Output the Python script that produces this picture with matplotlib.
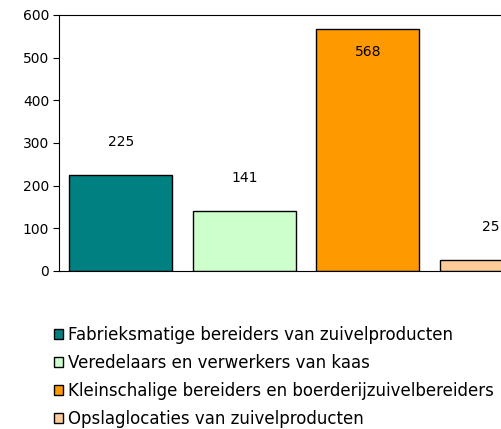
import matplotlib.pyplot as plt
from matplotlib.patches import Patch

# data
categories = [
    "Fabrieksmatige bereiders van zuivelproducten",
    "Veredelaars en verwerkers van kaas",
    "Kleinschalige bereiders en boerderijzuivelbereiders",
    "Opslaglocaties van zuivelproducten",
]
values = [225, 141, 568, 25]
colors = ["#008080", "#CCFFCC", "#FF9900", "#FFCC99"]
yticks = [0, 100, 200, 300, 400, 500, 600]

plt.rcParams['font.family'] = ['DejaVu Sans']

fig = plt.figure(figsize=(5.02, 4.29), dpi=100)
# plot area runs off the right edge, like in the original
ax = fig.add_axes([59 / 502, 158 / 429, 494 / 502, 256 / 429])

x = range(len(values))
bars = ax.bar(x, values, width=0.83, color=colors, edgecolor="black", linewidth=1.0)

ax.set_xlim(-0.5, len(values) - 0.5)
ax.set_ylim(0, 600)
ax.set_yticks(yticks)
ax.set_xticks([])
ax.tick_params(axis='y', direction='out', length=4, width=0.8, labelsize=10, pad=3)
for s in ax.spines.values():
    s.set_linewidth(0.8)

# value labels: above the bar, or inside when there is no room
for i, v in enumerate(values):
    if v > 500:
        off = -16.5
    else:
        off = 24
    ax.annotate(str(v), (i, v), xytext=(0, off), textcoords='offset points',
                ha='center', va='center', fontsize=10)

handles = [Patch(facecolor=c, edgecolor="black", linewidth=1.0) for c in colors]
fig.legend(handles, categories, loc='upper left', bbox_to_anchor=(54 / 502, 1 - 326 / 429),
           frameon=False, fontsize=12, handlelength=0.54, handleheight=0.54,
           handletextpad=0.33, labelspacing=0.6, borderpad=0, borderaxespad=0)

fig.savefig("out.png", dpi=100)
